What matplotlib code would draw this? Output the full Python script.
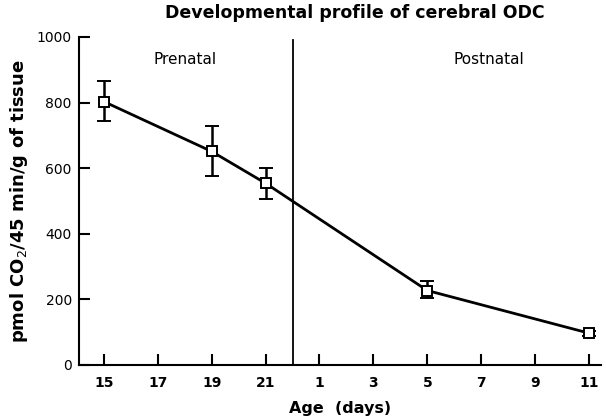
import matplotlib
matplotlib.use("Agg")
import matplotlib.pyplot as plt

# ODC activity (pmol CO2 / 45 min / g tissue)
prenatal_days = [15, 19, 21]
prenatal_odc = [803, 651, 554]
prenatal_err_lo = [58, 74, 47]
prenatal_err_hi = [63, 79, 45]

postnatal_days = [5, 11]
postnatal_odc = [227, 97]
postnatal_err_lo = [24, 8]
postnatal_err_hi = [29, 8]

prenatal_ticks = [15, 17, 19, 21]
postnatal_ticks = [1, 3, 5, 7, 9, 11]
birth_day = 22  # gestation day of birth

def prenatal_pos(d):
    return d - 15

def postnatal_pos(d):
    return d + birth_day - 15

x = [prenatal_pos(d) for d in prenatal_days] + [postnatal_pos(d) for d in postnatal_days]
y = prenatal_odc + postnatal_odc
err = [prenatal_err_lo + postnatal_err_lo, prenatal_err_hi + postnatal_err_hi]

fig = plt.figure(figsize=(6.06, 4.2), dpi=100)
ax = fig.add_axes([0.130, 0.131, 0.862, 0.781])

ax.errorbar(x, y, yerr=err, color="black", lw=2, capsize=5, capthick=1.8,
            elinewidth=1.8, marker="s", ms=7, mfc="white", mec="black", mew=1.4)
ax.axvline(birth_day - 15, color="black", lw=1.3, ymax=0.99)

ax.set_xlim(-0.93, 18.45)
ax.set_ylim(0, 1000)
ax.set_yticks([0, 200, 400, 600, 800, 1000])
xt = [prenatal_pos(d) for d in prenatal_ticks] + [postnatal_pos(d) for d in postnatal_ticks]
ax.set_xticks(xt)
ax.set_xticklabels([str(d) for d in prenatal_ticks + postnatal_ticks], fontweight="bold")

for s in ["top", "right"]:
    ax.spines[s].set_visible(False)
for s in ["left", "bottom"]:
    ax.spines[s].set_linewidth(1.5)
ax.tick_params(direction="in", length=8, width=1.5, labelsize=10)
ax.tick_params(axis="x", pad=8)
ax.tick_params(axis="y", pad=5)

ax.text(3.0, 930, "Prenatal", ha="center", va="center", fontsize=11)
ax.text(14.3, 930, "Postnatal", ha="center", va="center", fontsize=11)

fig.text(0.585, 0.968, "Developmental profile of cerebral ODC", ha="center", va="center",
         fontsize=12.5, fontweight="bold")
ax.set_xlabel("Age  (days)", fontsize=11.5, fontweight="bold", labelpad=8)
ax.set_ylabel("pmol CO$_2$/45 min/g of tissue", fontsize=13, fontweight="bold", labelpad=5)

fig.savefig("out.png", dpi=100)
